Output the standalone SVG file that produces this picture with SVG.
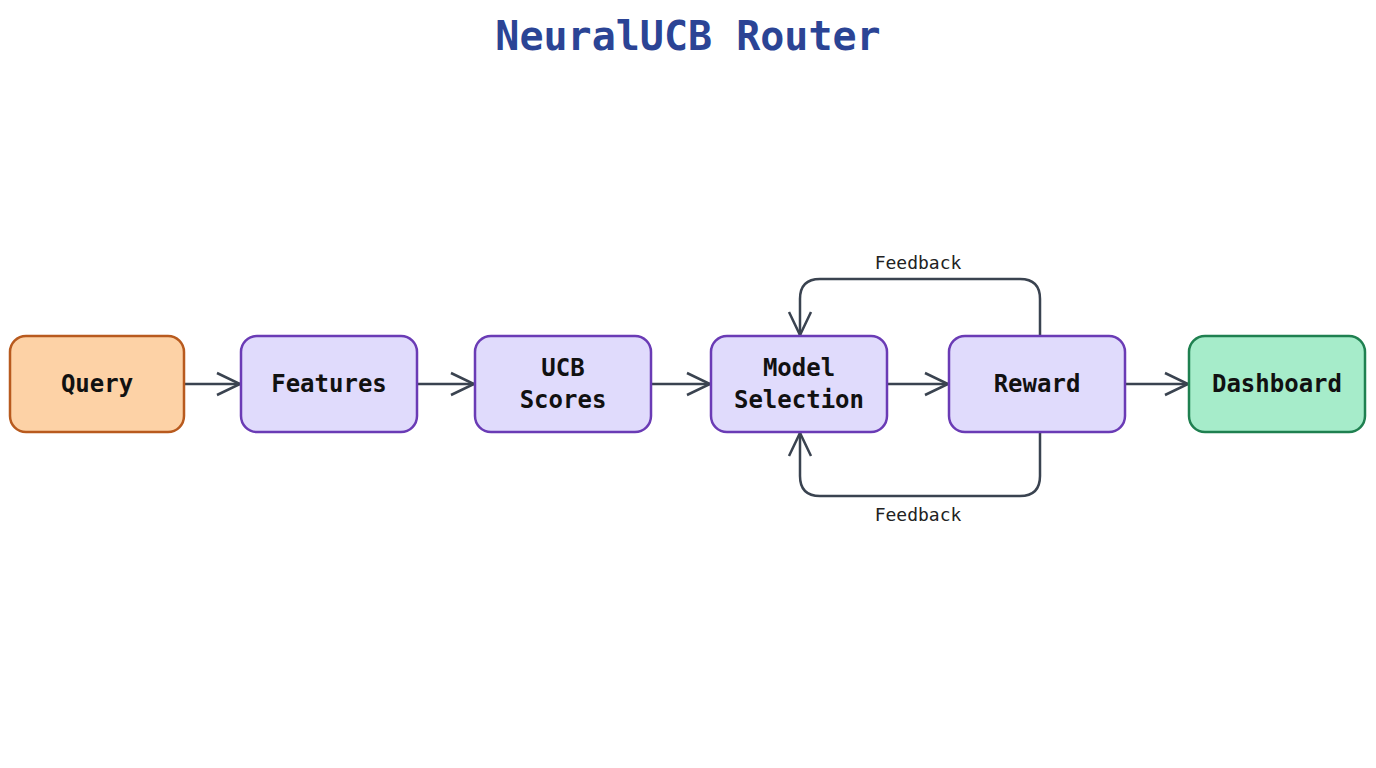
<svg xmlns="http://www.w3.org/2000/svg" width="1376" height="768" viewBox="0 0 1376 768">
<style>
.n{stroke-width:2.5}
.p{fill:#e0dbfc;stroke:#6a3bb5}
.t{font-family:"DejaVu Sans Mono",monospace;font-size:24px;font-weight:bold;fill:#111;text-anchor:middle}
.l{font-family:"DejaVu Sans Mono",monospace;font-size:18px;fill:#222;text-anchor:middle}
.c{fill:none;stroke:#3a4350;stroke-width:2.5}
</style>
<defs><marker id="a" markerWidth="30" markerHeight="26" refX="25" refY="13" orient="auto" markerUnits="userSpaceOnUse"><path d="M2,2 L25,13 L2,24" fill="none" stroke="#3a4350" stroke-width="2.5"/></marker></defs>
<rect width="1376" height="768" fill="#fff"/>
<text x="688" y="50" font-family="DejaVu Sans Mono,monospace" font-size="40" font-weight="bold" fill="#2b4495" text-anchor="middle">NeuralUCB Router</text>
<g id="connectors">
<line class="c" x1="184" y1="384" x2="240" y2="384" marker-end="url(#a)"/>
<line class="c" x1="417" y1="384" x2="474" y2="384" marker-end="url(#a)"/>
<line class="c" x1="651" y1="384" x2="710" y2="384" marker-end="url(#a)"/>
<line class="c" x1="887" y1="384" x2="948" y2="384" marker-end="url(#a)"/>
<line class="c" x1="1125" y1="384" x2="1188" y2="384" marker-end="url(#a)"/>
<path class="c" d="M1040,336 V299 Q1040,279 1020,279 H820 Q800,279 800,299 V335" marker-end="url(#a)"/>
<path class="c" d="M1040,432 V476 Q1040,496 1020,496 H820 Q800,496 800,476 V433" marker-end="url(#a)"/>
<text class="l" x="918" y="269">Feedback</text>
<text class="l" x="918" y="521">Feedback</text>
</g>
<g id="query"><rect class="n" x="10" y="336" width="174" height="96" rx="16" fill="#fdd2a6" stroke="#b85a1e"/><text class="t" x="97" y="392">Query</text></g>
<g id="features"><rect class="n p" x="241" y="336" width="176" height="96" rx="16"/><text class="t" x="329" y="392">Features</text></g>
<g id="ucb"><rect class="n p" x="475" y="336" width="176" height="96" rx="16"/><text class="t" x="563" y="376">UCB</text><text class="t" x="563" y="408">Scores</text></g>
<g id="model"><rect class="n p" x="711" y="336" width="176" height="96" rx="16"/><text class="t" x="799" y="376">Model</text><text class="t" x="799" y="408">Selection</text></g>
<g id="reward"><rect class="n p" x="949" y="336" width="176" height="96" rx="16"/><text class="t" x="1037" y="392">Reward</text></g>
<g id="dashboard"><rect class="n" x="1189" y="336" width="176" height="96" rx="16" fill="#a6ecca" stroke="#1f8050"/><text class="t" x="1277" y="392">Dashboard</text></g>
</svg>
